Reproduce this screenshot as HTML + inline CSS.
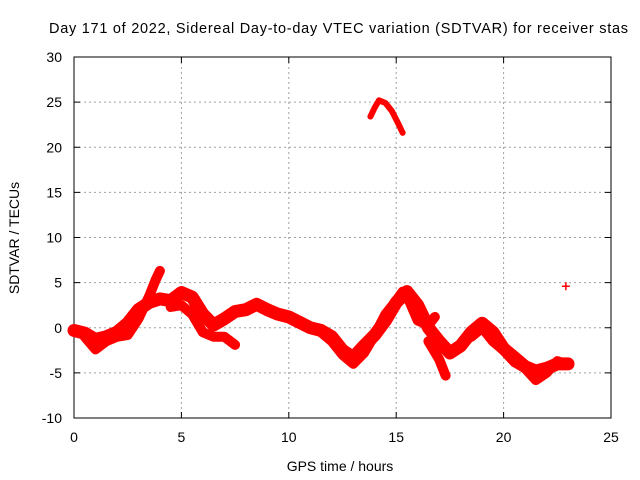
<!DOCTYPE html>
<html><head><meta charset="utf-8"><style>
html,body{margin:0;padding:0;background:#fff}
svg{display:block;font-family:"Liberation Sans",sans-serif}
</style></head><body>
<svg id="chart" width="640" height="480" viewBox="0 0 640 480" xmlns="http://www.w3.org/2000/svg">
<rect width="640" height="480" fill="#fff"/>
<text x="49" y="33" font-size="14.5" textLength="579" lengthAdjust="spacing" fill="#000">Day 171 of 2022, Sidereal Day-to-day VTEC variation (SDTVAR) for receiver stas</text>
<g id="grid"></g>
<g id="axes"></g>
<g id="marks"></g>
<text x="340" y="471" font-size="14" text-anchor="middle">GPS time / hours</text>
<text transform="translate(19,238) rotate(-90)" font-size="14" text-anchor="middle">SDTVAR / TECUs</text>
</svg>
<script>
const xTicks=[0,5,10,15,20,25];
const yTicks=[-10,-5,0,5,10,15,20,25,30];
const trackMain=[[0,-0.3],[0.5,-0.6],[1,-1.3],[1.5,-1],[2,-0.5],[2.5,0.5],[3,2],[3.5,2.8],[4,3.2],[4.5,3],[5,3.9],[5.5,3.4],[6,1.5],[6.5,0.3],[7,1],[7.5,1.8],[8,2],[8.5,2.6],[9,2],[9.5,1.5],[10,1.2],[10.5,0.6],[11,0],[11.5,-0.3],[12,-1],[12.5,-2.5],[13,-3.3],[13.5,-2],[14,-0.8],[14.5,0.8],[15,2.8],[15.5,4],[16,2.5],[16.5,0],[17,-1.5],[17.5,-2.8],[18,-2],[18.5,-0.5],[19,0.5],[19.5,-0.5],[20,-2.3],[20.5,-3.3],[21,-4.3],[21.5,-4.8],[22,-4.5],[22.5,-4],[23,-4]];
const trackRise=[[0.5,-1],[1,-2.4],[1.5,-1.5],[2,-1],[2.5,-0.8],[3,1],[3.5,3.5],[3.8,5.3],[4,6.3]];
const trackDip=[[4.5,2.3],[5,2.5],[5.5,1.5],[6,-0.5],[6.5,-1],[7,-1],[7.5,-1.9]];
const trackValley=[[11.5,-0.5],[12,-1.5],[12.5,-3],[13,-4],[13.5,-2.8],[14,-0.8],[14.5,1.5],[15,3],[15.3,4],[15.6,3],[16,0.8],[16.5,0.3],[16.8,1.2]];
const trackDrop=[[16.5,-1.5],[17,-3.5],[17.3,-5.3]];
const trackLate=[[18.5,-1],[19,0],[19.5,-1.5],[20,-2.5],[20.5,-3.8],[21,-4.5],[21.5,-5.8],[22,-5],[22.5,-3.7],[23,-4.1]];
const trackArc=[[13.8,23.4],[14,24.4],[14.2,25.2],[14.5,24.9],[14.8,24],[15.1,22.6],[15.3,21.6]];
const singlePoints=[[22.9,4.6]];
const X0=74,X1=611,Y0=57,Y1=418;
const xs=h=>X0+h/25*(X1-X0);
const ys=v=>Y1-(v+10)/40*(Y1-Y0);
const NS="http://www.w3.org/2000/svg";
const grid=document.getElementById('grid'),axes=document.getElementById('axes'),marks=document.getElementById('marks');
function mk(tag,attrs,parent){const e=document.createElementNS(NS,tag);for(const k in attrs)e.setAttribute(k,attrs[k]);parent.appendChild(e);return e;}
xTicks.forEach(t=>{
  const x=xs(t);
  if(t>0&&t<25){const g=mk('line',{x1:x,x2:x,y1:Y0,y2:Y1,stroke:'#a0a0a0','stroke-dasharray':'2,3'},grid);
  
  }
  mk('line',{x1:x,x2:x,y1:Y1,y2:Y1-6,stroke:'#000'},axes);
  mk('line',{x1:x,x2:x,y1:Y0,y2:Y0+6,stroke:'#000'},axes);
  const l=mk('text',{x:x,y:442,'font-size':14,'text-anchor':'middle'},axes);l.textContent=t;
  
  
});
yTicks.forEach(t=>{
  const y=ys(t);
  if(t>-10&&t<30){const g=mk('line',{x1:X0,x2:X1,y1:y,y2:y,stroke:'#a0a0a0','stroke-dasharray':'2,3'},grid);
  
  }
  mk('line',{x1:X0,x2:X0+6,y1:y,y2:y,stroke:'#000'},axes);
  mk('line',{x1:X1,x2:X1-6,y1:y,y2:y,stroke:'#000'},axes);
  const l=mk('text',{x:62,y:y+5,'font-size':14,'text-anchor':'end'},axes);l.textContent=t;
  
  
});
const frame=mk('rect',{x:X0,y:Y0,width:X1-X0,height:Y1-Y0,fill:'none',stroke:'#000'},axes);


[trackMain,trackRise,trackDip,trackValley,trackDrop,trackLate,trackArc].forEach((tr,i)=>{
  const p=mk('polyline',{points:tr.map(d=>xs(d[0])+','+ys(d[1])).join(' '),fill:'none',stroke:'#ff0000','stroke-width':i==6?6:(i==0?13:10),'stroke-linejoin':'round','stroke-linecap':'round'},marks);
  
  
});
singlePoints.forEach(d=>{
  const x=xs(d[0]),y=ys(d[1]);
  const p=mk('path',{d:`M${x-4},${y}H${x+4}M${x},${y-4}V${y+4}`,stroke:'#ff0000','stroke-width':1.5},marks);
  
  
});
</script>
</body></html>
